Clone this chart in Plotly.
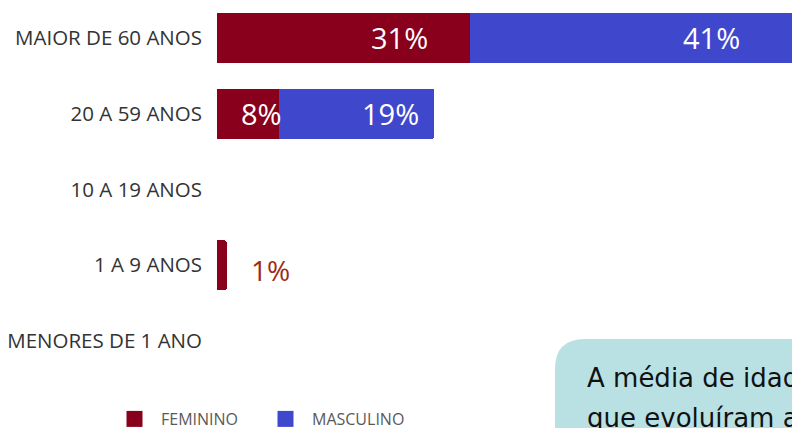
import plotly.graph_objects as go

categories = ["MAIOR DE 60 ANOS", "20 A 59 ANOS", "10 A 19 ANOS", "1 A 9 ANOS", "MENORES DE 1 ANO"]
feminino = [31, 7.6, 0, 1.2, 0]
masculino = [41, 19, 0, 0, 0]
series_names = ["FEMININO", "MASCULINO"]
box_lines = ["A média de idade dos pacientes", "que evoluíram a óbito foi de"]

COL_F = "#88001b"
COL_M = "#3f48cc"
FONT = "Open Sans"
LABEL_FRAC = 0.72

W, H = 792, 428
ML, MB = 217, 49
PW, PH = W - ML, H - MB
PX_PER_UNIT = 8.17

fig = go.Figure()
fig.add_trace(go.Bar(y=categories, x=feminino, orientation="h", marker_color=COL_F,
                     marker_line_width=0, width=0.66, showlegend=False, name=series_names[0]))
fig.add_trace(go.Bar(y=categories, x=masculino, orientation="h", marker_color=COL_M,
                     marker_line_width=0, width=0.66, showlegend=False, name=series_names[1]))
# legend entries with larger square symbols
for nm, col in zip(series_names, [COL_F, COL_M]):
    fig.add_trace(go.Scatter(x=[None], y=[None], mode="markers", name=nm,
                             marker=dict(symbol="square", size=22, color=col)))

ann = []
for cat, f, m in zip(categories, feminino, masculino):
    if f >= 5:
        ann.append(dict(x=f * LABEL_FRAC, y=cat, text=f"{round(f)}%", showarrow=False,
                        xanchor="center", font=dict(family=FONT, size=29, color="white")))
    elif f > 0:
        ann.append(dict(x=f, y=cat, text=f"{round(f)}%", showarrow=False, xanchor="left",
                        xshift=22, yshift=-5, font=dict(family=FONT, size=28, color="#9e2a16")))
    if m >= 5:
        ann.append(dict(x=f + m * LABEL_FRAC, y=cat, text=f"{round(m)}%", showarrow=False,
                        xanchor="center", font=dict(family=FONT, size=29, color="white")))

# text box (pixel -> paper conversions)
def px(xp):
    return (xp - ML) / PW
def py(yp):
    return (PH - yp) / PH

bx0, by0, r = 555, 339, 30
path = (f"M {px(bx0)},{py(H + 20)} L {px(bx0)},{py(by0 + r)} "
        f"Q {px(bx0)},{py(by0)} {px(bx0 + r)},{py(by0)} "
        f"L {px(W + 20)},{py(by0)} L {px(W + 20)},{py(H + 20)} Z")
fig.add_shape(type="path", path=path, xref="paper", yref="paper",
              fillcolor="#b9e1e4", line=dict(width=0), layer="below")
for i, line in enumerate(box_lines):
    ann.append(dict(x=px(585), y=py(395 + 40 * i), xref="paper", yref="paper", text=line,
                    showarrow=False, xanchor="left", yanchor="bottom",
                    font=dict(family="DejaVu Sans", size=26, color="#111111")))

fig.update_layout(
    width=W, height=H,
    margin=dict(l=ML, r=0, t=0, b=MB, autoexpand=False),
    paper_bgcolor="white", plot_bgcolor="white",
    barmode="stack", barcornerradius=3,
    font=dict(family=FONT),
    annotations=ann,
    showlegend=True,
    legend=dict(orientation="h", xref="container", yref="container", traceorder="normal",
                x=108 / W, y=1 - 402 / H, xanchor="left", yanchor="top",
                itemwidth=43, entrywidth=93, entrywidthmode="pixels",
                font=dict(family=FONT, size=16, color="#595959"),
                bgcolor="rgba(0,0,0,0)"),
    xaxis=dict(visible=False, range=[0, PW / PX_PER_UNIT], fixedrange=True),
    yaxis=dict(categoryorder="array", categoryarray=categories, autorange="reversed",
               showgrid=False, zeroline=False, showline=False, ticks="",
               ticklabelstandoff=14,
               tickfont=dict(family=FONT, size=20.5, color="#333333")),
)

fig.write_html("out.html", config={"displayModeBar": False},
               post_script="document.body.style.margin='0';document.body.style.overflow='hidden';")
